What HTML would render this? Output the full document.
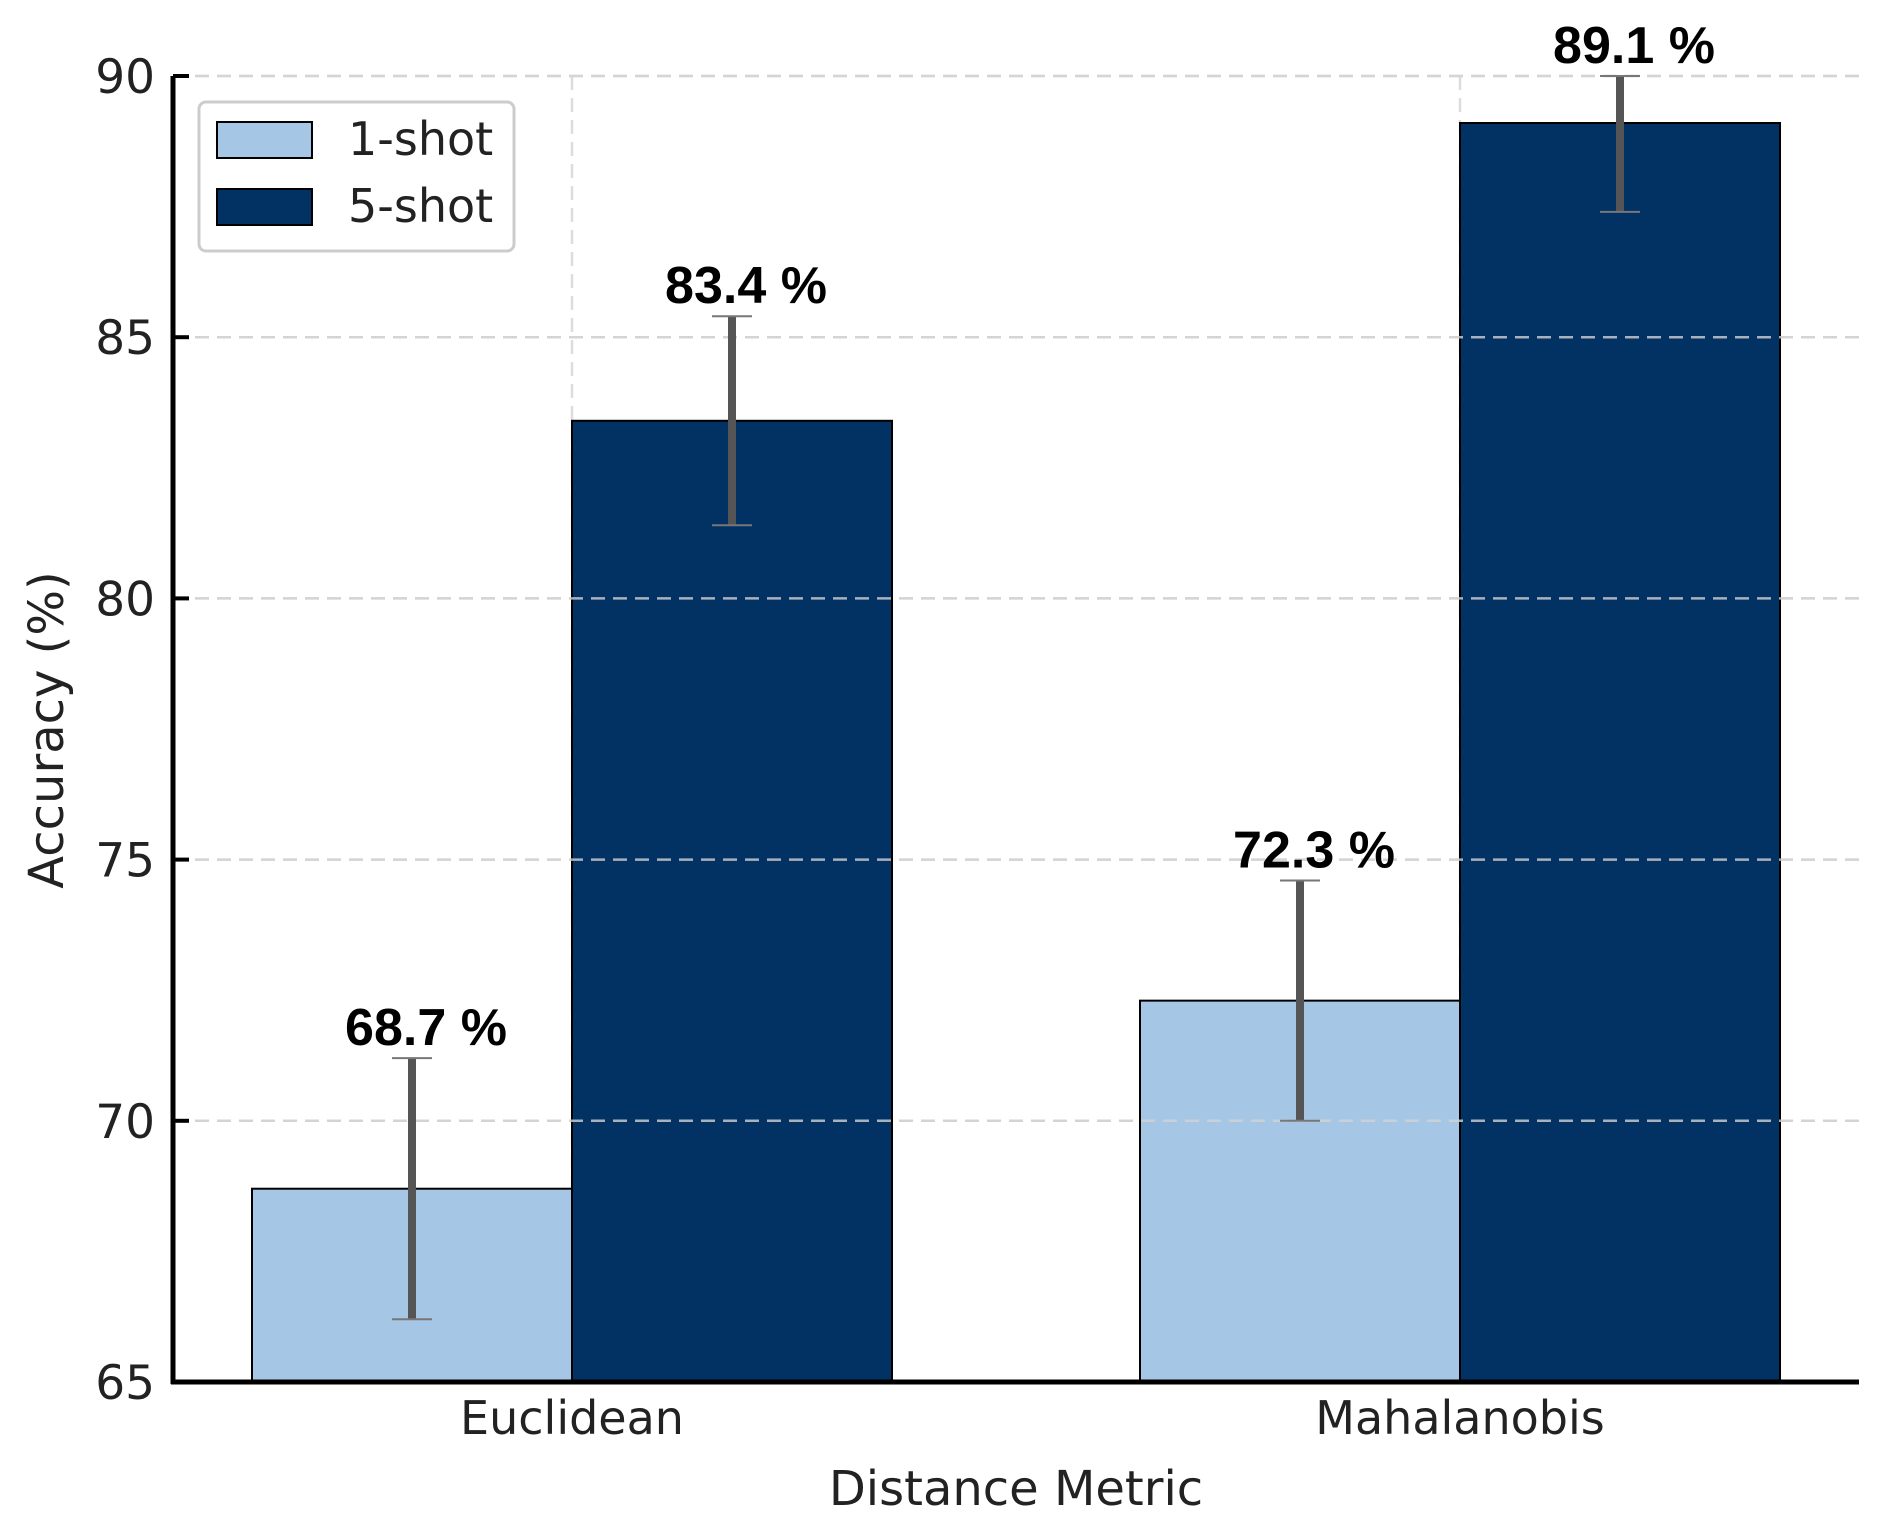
<!DOCTYPE html>
<html><head><meta charset="utf-8"><style>
html,body{margin:0;padding:0;background:#fff;}
svg{display:block;font-family:"DejaVu Sans","Liberation Sans",sans-serif;}
</style></head><body>
<svg id="chart" width="1891" height="1528" viewBox="0 0 1891 1528">
<g id="grid"></g><g id="bars"></g><g id="grid2"></g><g id="errs"></g><g id="axes"></g><g id="labels"></g>
<text x="50" y="730" transform="rotate(-90 50 730)" text-anchor="middle" dominant-baseline="middle" font-size="48" fill="#222">Accuracy (%)</text>
<text x="1016" y="1505" text-anchor="middle" font-size="48" fill="#222">Distance Metric</text>
<g>
<rect x="199" y="102" width="315" height="149" rx="7" fill="#fff" stroke="#ccc" stroke-width="3"/>
<rect x="217" y="122" width="95" height="36" fill="#a6c6e6" stroke="#000" stroke-width="2"/>
<text x="348" y="155" font-size="46" fill="#222">1-shot</text>
<rect x="217" y="189" width="95" height="36" fill="#023163" stroke="#000" stroke-width="2"/>
<text x="348" y="222" font-size="46" fill="#222">5-shot</text>
</g>
</svg>
<script>
const categories = ["Euclidean", "Mahalanobis"];
const oneShot = [68.7, 72.3];
const fiveShot = [83.4, 89.1];
const oneShotErr = [2.5, 2.3];
const fiveShotErr = [2.0, 1.7];
const yTicks = [65, 70, 75, 80, 85, 90];

const NS = "http://www.w3.org/2000/svg";
const L = 173, R = 1859, T = 76, B = 1382, yMin = 65, yMax = 90;
const y = v => B - (v - yMin) / (yMax - yMin) * (B - T);
const c0 = 572, step = 888;
const cx = i => c0 + i * step;
const barW = 320;
function mk(tag, attrs, parent) { const e = document.createElementNS(NS, tag); for (const k in attrs) e.setAttribute(k, attrs[k]); document.getElementById(parent).appendChild(e); return e; }

yTicks.forEach(t => {
  const g = mk("line", {x1: L, x2: R, y1: y(t), y2: y(t), stroke: "#ddd", "stroke-width": 2.5, "stroke-dasharray": "14 8"}, "grid");
  
  
  const g2 = mk("line", {x1: L, x2: R, y1: y(t), y2: y(t), stroke: "rgba(210,210,210,0.8)", "stroke-width": 2.5, "stroke-dasharray": "14 8"}, "grid2");
  
  
  const tk = mk("line", {x1: L, x2: L + 16, y1: y(t), y2: y(t), stroke: "#000", "stroke-width": 4}, "axes");
  
  
  const tl = mk("text", {x: L - 18, y: y(t) + 17, "text-anchor": "end", "font-size": 47, fill: "#222"}, "axes");
  tl.textContent = t;
  
  
});

categories.forEach((c, i) => {
  const x0 = cx(i);
  const vg = mk("line", {x1: x0, x2: x0, y1: T, y2: B, stroke: "#ddd", "stroke-width": 2.5, "stroke-dasharray": "14 8"}, "grid");
  
  
  const series = [[oneShot, oneShotErr, "#a6c6e6", "1-shot", -1], [fiveShot, fiveShotErr, "#023163", "5-shot", 0]];
  series.forEach(([vals, errs, col, nm, off]) => {
    const bx = x0 + off * barW;
    const v = vals[i];
    const b = mk("rect", {x: bx, y: y(v), width: barW, height: B - y(v), fill: col, stroke: "#000", "stroke-width": 2}, "bars");
    
    
    const ex = bx + barW / 2;
    const top = Math.min(v + errs[i], yMax), bot = v - errs[i];
    const e = mk("line", {x1: ex, x2: ex, y1: y(top), y2: y(bot), stroke: "#555", "stroke-width": 8}, "errs");
    
    
    [top, bot].forEach(tv => {
      const cp = mk("line", {x1: ex - 20, x2: ex + 20, y1: y(tv), y2: y(tv), stroke: "#777", "stroke-width": 2}, "errs");
      
      
    });
    const lb = mk("text", {x: ex + 14, y: y(top + 0.25), "text-anchor": "middle", "font-size": 52, "font-weight": "bold", fill: "#000", "font-family": "Liberation Sans, sans-serif", textLength: 162, lengthAdjust: "spacingAndGlyphs"}, "labels");
    lb.textContent = v.toFixed(1) + " %";
    
    
  });
  const xl = mk("text", {x: x0, y: 1434, "text-anchor": "middle", "font-size": 46, fill: "#222"}, "axes");
  xl.textContent = c;
  
  
});

const ya = mk("line", {x1: L, x2: L, y1: T, y2: B + 2, stroke: "#000", "stroke-width": 5}, "axes");


const xa = mk("line", {x1: L - 2, x2: R, y1: B, y2: B, stroke: "#000", "stroke-width": 5}, "axes");


</script>
</body></html>
